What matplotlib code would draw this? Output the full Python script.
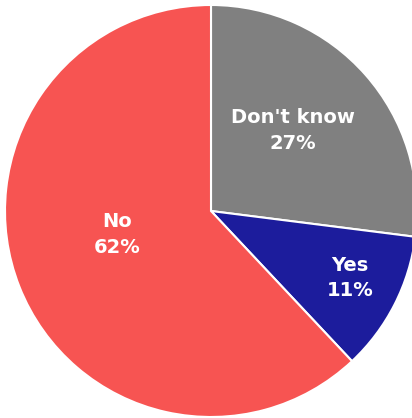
import numpy as np
import matplotlib.pyplot as plt

labels = ["Don't know", "Yes", "No"]
shares = [27, 11, 62]
colors = ["#808080", "#1c1c9c", "#f75452"]

fig = plt.figure(figsize=(4.12, 4.18), dpi=100)
ax = fig.add_axes([0, 0, 1, 1])

wedges, _ = ax.pie(shares, colors=colors, startangle=90, counterclock=False,
                   radius=1.0, wedgeprops=dict(edgecolor="white", linewidth=1.5))

# label placement: radial fraction and angle nudge for each slice
label_r = [0.556, 0.75, 0.47]
label_shift = [3, 1.3, -7.7]
for w, name, v, r, d in zip(wedges, labels, shares, label_r, label_shift):
    ang = np.deg2rad((w.theta1 + w.theta2) / 2 + d)
    ax.text(r * np.cos(ang), r * np.sin(ang), f"{name}\n{v}%",
            ha="center", va="center", color="white", fontsize=14,
            fontweight="bold", family="DejaVu Sans", linespacing=1.45)

# pixel frame: centre at (211, 211) from top-left, radius 206 px
px = 206.0
ax.set_xlim(-211 / px, (412 - 211) / px)
ax.set_ylim(-(418 - 211) / px, 211 / px)
ax.set_aspect("auto")
ax.axis("off")

fig.savefig("out.png", dpi=100, facecolor="white")
